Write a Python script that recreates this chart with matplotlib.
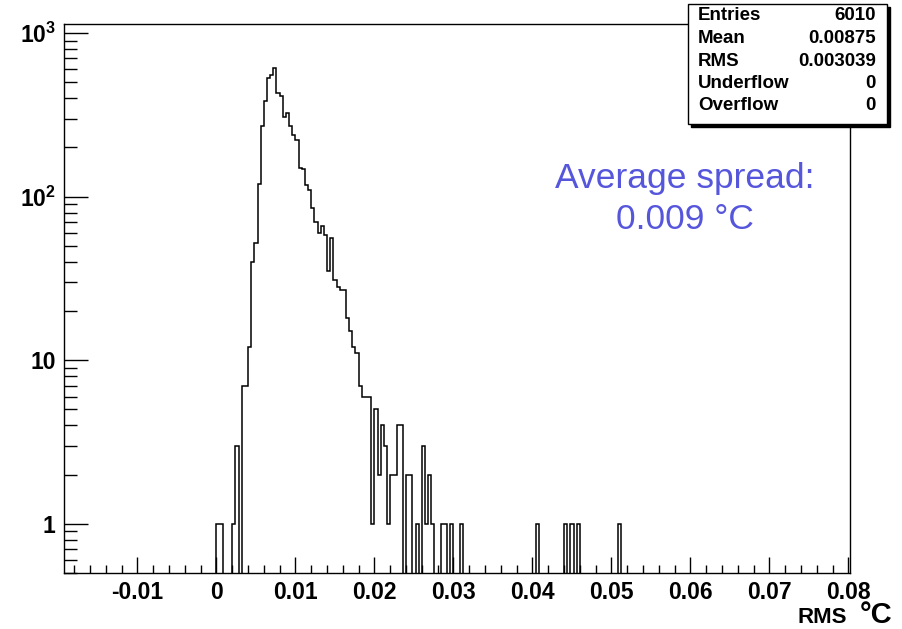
import numpy as np
import matplotlib.pyplot as plt
from matplotlib.patches import Rectangle
from matplotlib.ticker import MultipleLocator, LogLocator, FixedLocator, FixedFormatter, NullFormatter

plt.rcParams['font.family'] = ['Liberation Sans', 'DejaVu Sans']
plt.rcParams['mathtext.fontset'] = 'custom'
plt.rcParams['mathtext.rm'] = 'Liberation Sans:bold'
plt.rcParams['mathtext.bf'] = 'Liberation Sans:bold'

# histogram content (lower bin edge, entries), bin width 0.0004
bin_lo = [0.0000, 0.0004, 0.0020, 0.0024, 0.0032, 0.0036, 0.0040, 0.0044,
          0.0048, 0.0052, 0.0056, 0.0060, 0.0064, 0.0068, 0.0072, 0.0076,
          0.0080, 0.0084, 0.0088, 0.0092, 0.0096, 0.0100, 0.0104, 0.0108,
          0.0112, 0.0116, 0.0120, 0.0124, 0.0128, 0.0132, 0.0136, 0.0140,
          0.0144, 0.0148, 0.0152, 0.0156, 0.0160, 0.0164, 0.0168, 0.0172,
          0.0176, 0.0180, 0.0184, 0.0188, 0.0192, 0.0196, 0.0200, 0.0204,
          0.0208, 0.0212, 0.0216, 0.0220, 0.0224, 0.0228, 0.0232, 0.0240,
          0.0244, 0.0252, 0.0260, 0.0264, 0.0268, 0.0272, 0.0284, 0.0288,
          0.0296, 0.0308, 0.0404, 0.0440, 0.0448, 0.0456, 0.0508]
entries = [1, 1, 1, 3, 7, 7, 12, 40,
           52, 120, 271, 386, 530, 554, 609, 428,
           415, 308, 327, 271, 238, 222, 149, 148,
           118, 110, 85, 70, 60, 66, 58, 35,
           56, 31, 28, 27, 27, 18, 15, 12,
           11, 7, 6, 6, 6, 1, 5, 2,
           4, 3, 1, 2, 2, 4, 4, 2,
           2, 1, 3, 1, 2, 1, 1, 1,
           1, 1, 1, 1, 1, 1, 1]
bin_w = 0.0004

stat_names = ['Entries', 'Mean', 'RMS', 'Underflow', 'Overflow']
stat_values = ['6010', '0.00875', '0.003039', '0', '0']

W, H = 903, 629
def fx(x):
    return x / W
def fy(y):
    return 1 - y / H

edges = np.arange(0, 0.0520 + bin_w / 2, bin_w)
counts = np.zeros(len(edges) - 1)
for lo, n in zip(bin_lo, entries):
    counts[int(round(lo / bin_w))] = n

fig = plt.figure(figsize=(W / 100, H / 100), dpi=100)
ax = fig.add_axes([fx(64), fy(573), fx(850) - fx(64), fy(24) - fy(573)])

ax.set_yscale('log', nonpositive='clip')
ax.stairs(counts, edges, baseline=0, color='black', lw=1.1)

ax.set_xlim(-0.0193, 0.0802)
ax.set_ylim(0.5, 1137)

ax.xaxis.set_major_locator(FixedLocator([-0.01, 0, 0.01, 0.02, 0.03, 0.04, 0.05, 0.06, 0.07, 0.08]))
ax.xaxis.set_major_formatter(FixedFormatter(['-0.01', '0', '0.01', '0.02', '0.03', '0.04',
                                             '0.05', '0.06', '0.07', '0.08']))
ax.xaxis.set_minor_locator(MultipleLocator(0.002))
ax.yaxis.set_major_locator(FixedLocator([1, 10, 100, 1000]))
ax.yaxis.set_major_formatter(FixedFormatter(['1', '10', r'$10^{2}$', r'$10^{3}$']))
ax.yaxis.set_minor_locator(LogLocator(base=10, subs=np.arange(2, 10)))
ax.yaxis.set_minor_formatter(NullFormatter())

ax.tick_params(axis='both', which='both', direction='in', top=False, right=False, width=1)
ax.tick_params(axis='x', which='major', length=11.5, pad=6, labelsize=16.5)
ax.tick_params(axis='x', which='minor', length=6)
ax.tick_params(axis='y', which='major', length=17, pad=6, labelsize=16.5)
ax.tick_params(axis='y', which='minor', length=9)
for lab in ax.get_xticklabels() + ax.get_yticklabels():
    lab.set_fontweight('bold')
for sp in ax.spines.values():
    sp.set_linewidth(1)

# axis title
fig.text(fx(847), fy(623), 'RMS', ha='right', va='baseline', fontsize=16, fontweight='bold')
fig.text(fx(892), fy(623), '°C', ha='right', va='baseline', fontsize=21, fontweight='bold')

# annotation
fig.text(fx(685), fy(199), 'Average spread:\n0.009 °C', ha='center', va='center',
         multialignment='center', fontsize=25.5, color='#5656dc', linespacing=1.3)

# stats box with shadow
fig.patches.append(Rectangle((fx(691), fy(126.5)), fx(890) - fx(691), fy(7) - fy(126.5),
                             transform=fig.transFigure, facecolor='black', edgecolor='black', zorder=5))
fig.patches.append(Rectangle((fx(688), fy(123.5)), fx(887) - fx(688), fy(4) - fy(123.5),
                             transform=fig.transFigure, facecolor='white', edgecolor='black',
                             lw=1, zorder=6))
row_y = [16, 38.5, 61, 83.5, 106]
for name, val, y in zip(stat_names, stat_values, row_y):
    fig.text(fx(698), fy(y), name, ha='left', va='center', fontsize=13.5, fontweight='bold', zorder=7)
    fig.text(fx(876), fy(y), val, ha='right', va='center', fontsize=13.5, fontweight='bold', zorder=7)

fig.savefig('out.png', dpi=100)
